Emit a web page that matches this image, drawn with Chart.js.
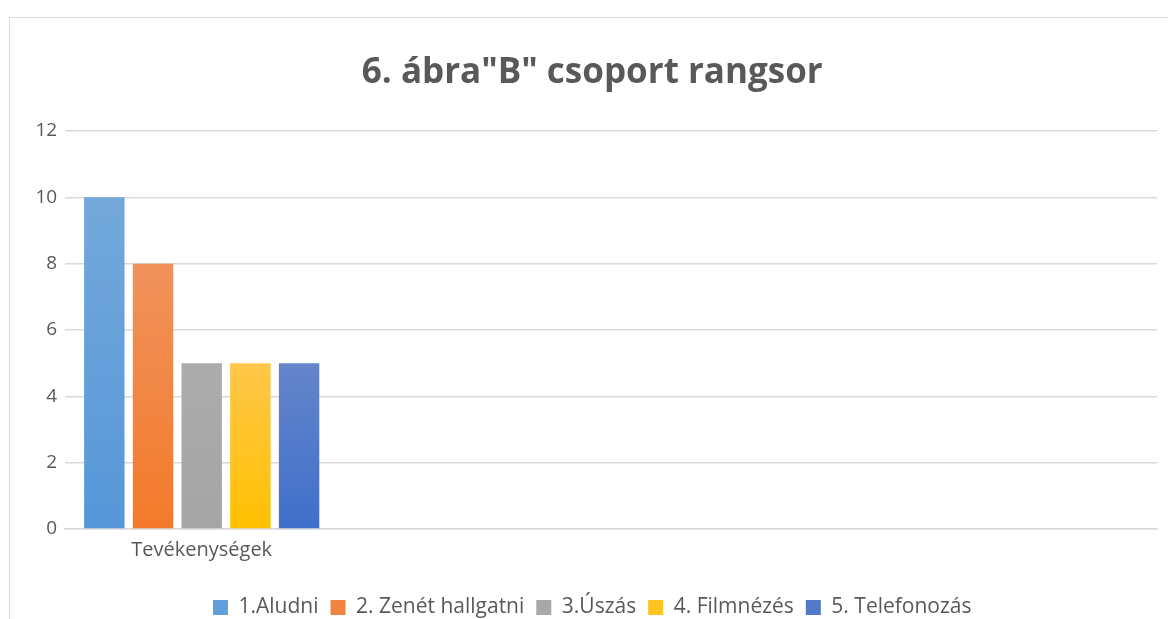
<!DOCTYPE html>
<html>
<head>
<meta charset="utf-8">
<script src="https://cdn.jsdelivr.net/npm/chart.js@4.4.1/dist/chart.umd.min.js"></script>
<style>
  html, body { margin: 0; padding: 0; background: #fff; overflow: hidden; width: 1168px; height: 619px; }
  #frame { position: absolute; left: 9px; top: 17px; width: 1170px; height: 620px; border: 1.5px solid #D9D9D9; box-sizing: border-box; }
  #wrap { position: absolute; left: 0; top: 0; width: 1168px; height: 618px; }
</style>
</head>
<body>
<div id="frame"><div id="wrap"><canvas id="c"></canvas></div></div>
<script>
const categories = ["Tevékenységek", "", "", ""];
const seriesNames = ["1.Aludni", "2. Zenét hallgatni", "3.Úszás", "4. Filmnézés", "5. Telefonozás"];
const aludni = [10, null, null, null];
const zenetHallgatni = [8, null, null, null];
const uszas = [5, null, null, null];
const filmnezes = [5, null, null, null];
const telefonozas = [5, null, null, null];
const yTicks = [0, 2, 4, 6, 8, 10, 12];

const topColors = ["#74A8DB", "#F0925C", "#ACACAC", "#FFC64A", "#6585CB"];
const bottomColors = ["#5697D8", "#F47A2A", "#A5A5A5", "#FFC000", "#3F6FCA"];
const legendColors = ["#609FD9", "#F28442", "#A8A8A8", "#FFC322", "#5079C8"];
const seriesValues = [aludni, zenetHallgatni, uszas, filmnezes, telefonozas];

function gradFor(i) {
  return function (ctx) {
    const chart = ctx.chart;
    const ys = chart.scales && chart.scales.y;
    if (!ys || ctx.type !== 'data' || ctx.raw == null) return bottomColors[i];
    const top = ys.getPixelForValue(ctx.raw);
    const base = ys.getPixelForValue(0);
    if (!isFinite(top) || !isFinite(base) || top === base) return bottomColors[i];
    const g = chart.ctx.createLinearGradient(0, top, 0, base);
    g.addColorStop(0, topColors[i]);
    g.addColorStop(1, bottomColors[i]);
    return g;
  };
}

const datasets = seriesNames.map((name, i) => ({
  label: name,
  data: seriesValues[i],
  backgroundColor: gradFor(i),
  borderWidth: 0,
  categoryPercentage: 0.892,
  barPercentage: 0.83
}));

const FONT = "'Open Sans', Lato, sans-serif";

const legendLift = {
  id: 'legendLift',
  beforeInit(chart) {
    const lg = chart.legend;
    if (!lg) return;
    const fit = lg.fit;
    lg.fit = function () { fit.call(this); this.height += 8; };
  }
};

new Chart(document.getElementById('c'), {
  type: 'bar',
  data: { labels: categories, datasets },
  options: {
    responsive: true,
    maintainAspectRatio: false,
    animation: false,
    layout: { padding: { left: 17.5, right: 21, top: 0, bottom: 0 } },
    plugins: {
      title: {
        display: true,
        text: '6. ábra"B" csoport rangsor',
        color: '#595959',
        font: { family: FONT, size: 35, weight: 'bold' },
        padding: { top: 34, bottom: 37 }
      },
      legend: {
        position: 'bottom',
        labels: {
          color: '#595959',
          font: { family: FONT, size: 21 },
          boxWidth: 15,
          boxHeight: 15,
          padding: 12,
          generateLabels: function (chart) {
            return chart.data.datasets.map((d, i) => ({
              text: d.label,
              fillStyle: legendColors[i],
              strokeStyle: legendColors[i],
              lineWidth: 0,
              datasetIndex: i,
              fontColor: '#595959'
            }));
          }
        }
      },
      tooltip: { enabled: false }
    },
    scales: {
      x: {
        grid: { display: false },
        border: { display: true, color: '#D9D9D9', width: 1.5 },
        afterFit(axis) { axis.height += 22; },
        ticks: { color: '#595959', font: { family: FONT, size: 20 }, padding: 1, maxRotation: 0, autoSkip: false }
      },
      y: {
        min: 0,
        max: 12,
        afterBuildTicks: function (axis) { axis.ticks = yTicks.map(v => ({ value: v })); },
        grid: { color: '#D9D9D9', lineWidth: 1.5, drawTicks: false },
        border: { display: false },
        ticks: { color: '#595959', font: { family: FONT, size: 19 }, padding: 8 }
      }
    }
  },
  plugins: [legendLift]
});
</script>
</body>
</html>
